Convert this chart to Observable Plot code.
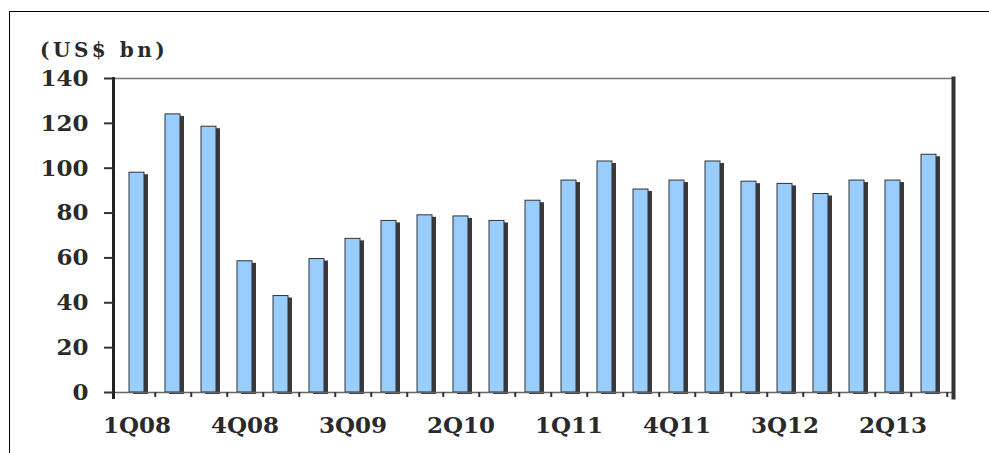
<!DOCTYPE html>
<html>
<head>
<meta charset="utf-8">
<script src="https://cdn.jsdelivr.net/npm/d3@7"></script>
<script src="https://cdn.jsdelivr.net/npm/@observablehq/plot@0.6"></script>
<style>
  html, body { margin: 0; padding: 0; background: #fff; }
  #page { position: relative; width: 989px; height: 453px; overflow: hidden; background: #fff; }
  #frame { position: absolute; left: 9px; top: 11px; width: 1100px; height: 600px; border-left: 1px solid #000; border-top: 1px solid #000; }
  #title { position: absolute; left: 40px; top: 38px; font-family: "DejaVu Serif", serif; font-weight: bold; font-size: 20px; letter-spacing: 3.5px; color: #2a2a2a; white-space: nowrap; }
  #chart { position: absolute; left: 0; top: 62px; }
</style>
</head>
<body>
<div id="page">
  <div id="frame"></div>
  <div id="title">(US$ bn)</div>
  <div id="chart"></div>
</div>
<script>
const quarters = ["1Q08","2Q08","3Q08","4Q08","1Q09","2Q09","3Q09","4Q09","1Q10","2Q10","3Q10","4Q10",
                  "1Q11","2Q11","3Q11","4Q11","1Q12","2Q12","3Q12","4Q12","1Q13","2Q13","3Q13"];
const values = [98, 124, 118.5, 58.5, 43, 59.5, 68.5, 76.5, 79, 78.5, 76.5, 85.5,
                94.5, 103, 90.5, 94.5, 103, 94, 93, 88.5, 94.5, 94.5, 106];
const xTickLabels = ["1Q08","4Q08","3Q09","2Q10","1Q11","4Q11","3Q12","2Q13"];
const yTicks = [0, 20, 40, 60, 80, 100, 120, 140];

const data = quarters.map((q, i) => ({q, v: values[i]}));
const font = {fontFamily: "DejaVu Serif", fontWeight: "bold"};

const plot = Plot.plot({
  width: 989,
  height: 391,
  marginTop: 16,
  marginBottom: 61,
  marginLeft: 113,
  marginRight: 36,
  style: {fontFamily: "DejaVu Serif", fontWeight: "bold", fontSize: "23px", color: "#2a2a2a", background: "transparent"},
  x: {domain: quarters, paddingInner: 0.58, paddingOuter: 0.29},
  y: {domain: [0, 140]},
  marks: [
    Plot.frame({anchor: "top", stroke: "#777", strokeWidth: 1.5}),
    Plot.barY(data, {x: "q", y: "v", fill: "#3a3a3a", dx: 4, dy: 2}),
    Plot.barY(data, {x: "q", y: "v", fill: "#99ccff", stroke: "#333", strokeWidth: 1}),
    Plot.ruleY([0], {stroke: "#666", strokeWidth: 1.5}),
    Plot.frame({anchor: "left", stroke: "#222", strokeWidth: 3, insetBottom: -5}),
    Plot.frame({anchor: "right", stroke: "#333", strokeWidth: 4, insetBottom: -5}),
    Plot.axisY({ticks: yTicks, tickSize: 9, tickPadding: 16, strokeWidth: 2, stroke: "#333", fontSize: 23, ...font, label: null}),
    Plot.axisX({tickSize: 5, tickFormat: () => "", dx: 18.26, stroke: "#333", strokeWidth: 2, label: null}),
    Plot.axisX({ticks: xTickLabels, tickSize: 0, tickPadding: 24, fontSize: 23, ...font, label: null})
  ]
});
document.getElementById("chart").appendChild(plot);
</script>
</body>
</html>
